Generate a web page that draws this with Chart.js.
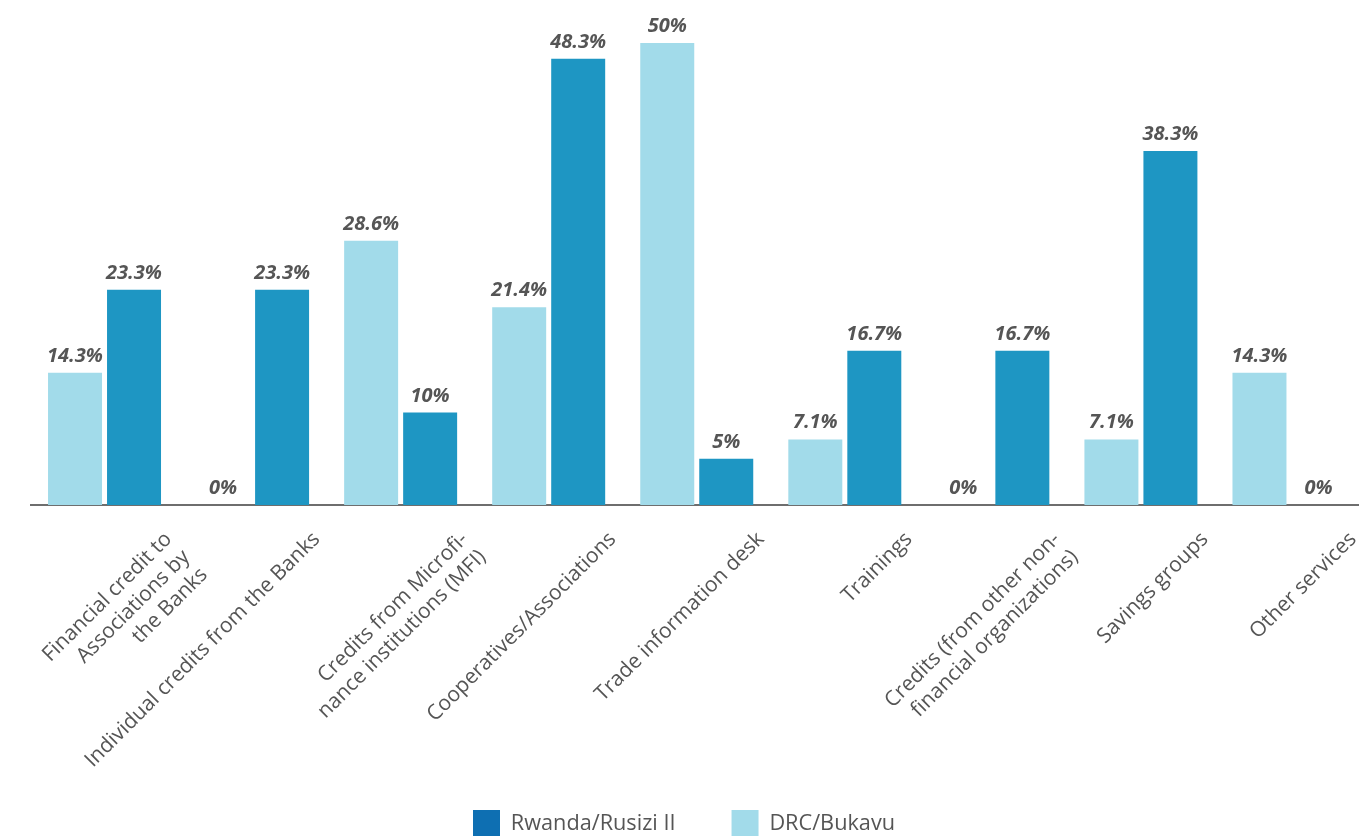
<!DOCTYPE html>
<html>
<head>
<meta charset="utf-8">
<script src="https://cdn.jsdelivr.net/npm/chart.js@4.4.1/dist/chart.umd.min.js"></script>
<style>
  html, body { margin: 0; padding: 0; width: 1359px; height: 836px; overflow: hidden; background: #fff; }
  #chart { position: absolute; left: 5px; top: 0; }
</style>
</head>
<body>
<canvas id="chart" width="1358" height="847"></canvas>
<script>
// categories (multi-line labels as they wrap in the picture)
const categories = [
  ["Financial credit to", "Associations by", "the Banks"],
  "Individual credits from the Banks",
  ["Credits from Microfi-", "nance institutions (MFI)"],
  "Cooperatives/Associations",
  "Trade information desk",
  "Trainings",
  ["Credits (from other non-", "financial organizations)"],
  "Savings groups",
  "Other services"
];

// values in %
const drcBukavu = [14.3, 0, 28.6, 21.4, 50, 7.1, 0, 7.1, 14.3];
const rwandaRusizi = [23.3, 23.3, 10, 48.3, 5, 16.7, 16.7, 38.3, 0];

const seriesNames = ["DRC/Bukavu", "Rwanda/Rusizi II"];
const barColors = ["#a2dbea", "#1e96c3"];
const legendColors = ["#a2dbea", "#0e6fb2"];
const textColor = "#555555";

// value labels above the bars
const valueLabels = {
  id: "valueLabels",
  afterDatasetsDraw(chart) {
    const ctx = chart.ctx;
    ctx.save();
    ctx.font = "italic bold 20px 'Open Sans'";
    ctx.fillStyle = textColor;
    ctx.textAlign = "center";
    ctx.textBaseline = "alphabetic";
    chart.data.datasets.forEach((ds, i) => {
      chart.getDatasetMeta(i).data.forEach((bar, j) => {
        ctx.fillText(ds.data[j] + "%", bar.x, bar.y - 11);
      });
    });
    ctx.restore();
  }
};

new Chart(document.getElementById("chart"), {
  type: "bar",
  data: {
    labels: categories,
    datasets: [
      { label: seriesNames[0], data: drcBukavu, backgroundColor: barColors[0] },
      { label: seriesNames[1], data: rwandaRusizi, backgroundColor: barColors[1] }
    ]
  },
  options: {
    responsive: false,
    animation: false,
    categoryPercentage: 0.797,
    barPercentage: 0.915,
    layout: { padding: { top: 43, right: 0, bottom: 0, left: 0 } },
    plugins: {
      tooltip: { enabled: false },
      legend: {
        position: "bottom",
        // empty title with negative padding pulls the legend up so the wide item gap fits
        title: { display: true, text: "", font: { size: 10 }, padding: { top: -30, bottom: 0 } },
        labels: {
          boxWidth: 27,
          boxHeight: 27,
          padding: 56,
          color: textColor,
          font: { family: "'Open Sans'", size: 21.7 },
          generateLabels(chart) {
            // Rwanda first, with its darker swatch
            return [1, 0].map(i => ({
              text: seriesNames[i],
              fillStyle: legendColors[i],
              strokeStyle: legendColors[i],
              lineWidth: 0,
              fontColor: textColor,
              datasetIndex: i
            }));
          }
        }
      }
    },
    scales: {
      x: {
        grid: { display: false, drawTicks: false },
        border: { display: true, color: "#6e6e6e", width: 2 },
        ticks: {
          autoSkip: false,
          minRotation: 45,
          maxRotation: 45,
          labelOffset: 64,
          padding: 22,
          color: textColor,
          font: { family: "'Open Sans'", size: 21 }
        },
        afterFit(scale) {
          scale.height = 267;
          scale.paddingLeft = 0;
          scale.paddingRight = 0;
        }
      },
      y: {
        min: 0,
        max: 50,
        grid: { display: false, drawTicks: false },
        border: { display: false },
        ticks: { display: false },
        afterFit(scale) { scale.width = 25.5; }
      }
    }
  },
  plugins: [valueLabels]
});
</script>
</body>
</html>
